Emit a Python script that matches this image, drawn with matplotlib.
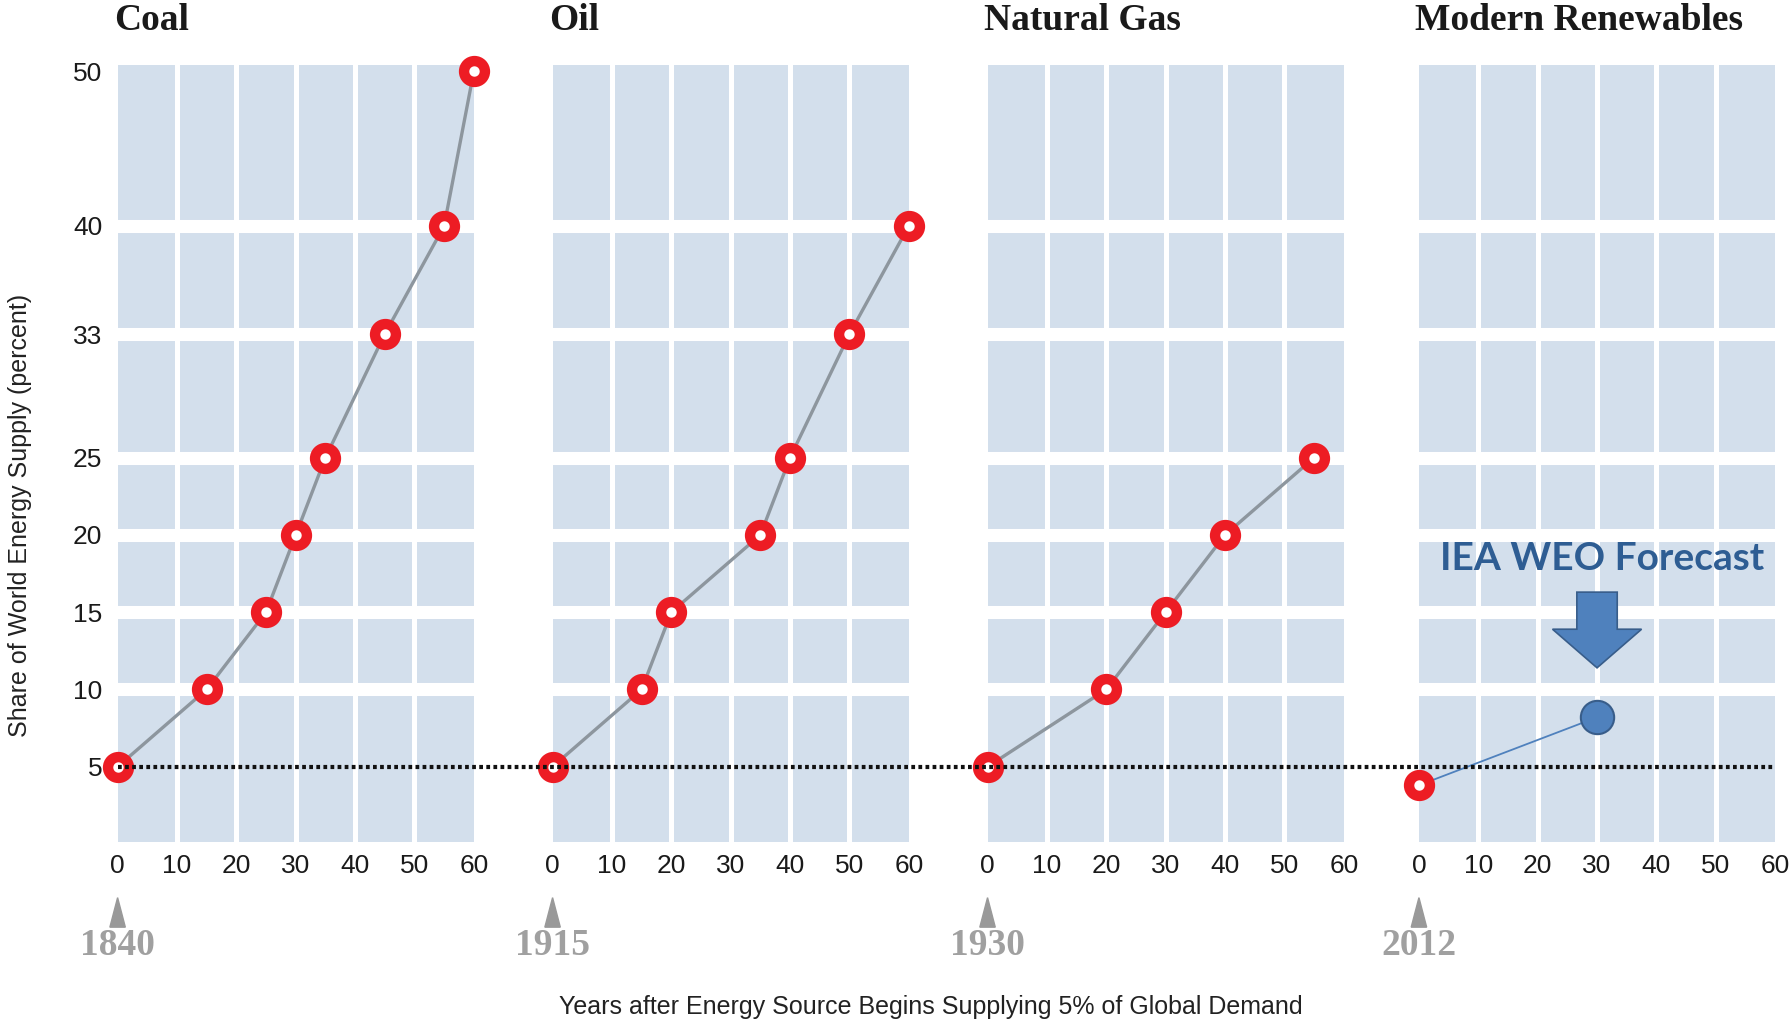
import numpy as np
import matplotlib
matplotlib.use("Agg")
import matplotlib.pyplot as plt
from matplotlib.patches import Polygon
from matplotlib.lines import Line2D
import matplotlib.transforms as mtransforms

# data
titles = ['Coal', 'Oil', 'Natural Gas', 'Modern Renewables']
start_years = ['1840', '1915', '1930', '2012']

coal_x = [0, 15, 25, 30, 35, 45, 55, 60]
coal_y = [5, 10, 15, 20, 25, 33, 40, 50]
oil_x = [0, 15, 20, 35, 40, 50, 60]
oil_y = [5, 10, 15, 20, 25, 33, 40]
gas_x = [0, 20, 30, 40, 55]
gas_y = [5, 10, 15, 20, 25]
ren_x = [0]
ren_y = [3.8]
forecast_x = [0, 30]
forecast_y = [3.8, 8.2]
threshold = 5

y_ticks = [5, 10, 15, 20, 25, 33, 40, 50]
band_gaps = [10, 15, 20, 25, 33, 40]
x_ticks = [0, 10, 20, 30, 40, 50, 60]

SANS = ['Liberation Sans', 'DejaVu Sans']
SERIF = ['Liberation Serif', 'DejaVu Serif']
RED = '#ed1c24'
LINE = '#8d969e'
SHADE = '#d3dfec'

series = [(coal_x, coal_y), (oil_x, oil_y), (gas_x, gas_y), (ren_x, ren_y)]
lefts = [0.0657, 0.3087, 0.5517, 0.7927]

fig = plt.figure(figsize=(17.9, 10.24), dpi=100)
axes = []
for i, left in enumerate(lefts):
    ax = fig.add_axes([left, 0.1773, 0.199, 0.759])
    axes.append(ax)
    ax.set_facecolor(SHADE)
    ax.set_xlim(0, 60)
    ax.set_ylim(0.1, 50.4)
    for s in ax.spines.values():
        s.set_visible(False)
    # white gutters between the blocks
    for gx in x_ticks[1:-1]:
        ax.axvline(gx, color='white', lw=3.6, zorder=1)
    for gy in band_gaps:
        ax.axhline(gy, color='white', lw=9.4, zorder=1)

    ax.set_xticks(x_ticks)
    ax.set_xticklabels([str(t) for t in x_ticks], family=SANS, fontsize=19, color='#1a1a1a')
    ax.tick_params(axis='x', length=0, pad=8)
    ax.set_yticks(y_ticks)
    if i == 0:
        ax.set_yticklabels([str(t) for t in y_ticks], family=SANS, fontsize=19, color='#1a1a1a')
        ax.tick_params(axis='y', length=0, pad=11)
    else:
        ax.tick_params(axis='y', length=0, labelleft=False)
    ax.grid(False)

    xs, ys = series[i]
    if i == 3:
        ax.plot(forecast_x, forecast_y, color='#4f81bd', lw=1.3, zorder=3, clip_on=False)
        ax.plot(forecast_x[1:], forecast_y[1:], 'o', ms=24, color='#4f81bd',
                mec='#385d8a', mew=1.5, zorder=4, clip_on=False)
    else:
        ax.plot(xs, ys, color=LINE, lw=2.4, zorder=3, clip_on=False)
    ax.plot(xs, ys, 'o', ms=15, mfc='white', mec=RED, mew=7.5, zorder=5, clip_on=False)

    ax.text(-0.01, 1.057, titles[i], transform=ax.transAxes, ha='left', va='center',
            family=SERIF, fontweight='bold', fontsize=27, color='#1a1a1a')

    # start-year marker under x=0
    trans = mtransforms.blended_transform_factory(ax.transData, ax.transAxes)
    tri = Polygon([[-1.3, -0.109], [1.3, -0.109], [0, -0.071]], closed=True,
                  transform=trans, color='#999999', clip_on=False)
    ax.add_patch(tri)
    ax.text(0, -0.133, start_years[i], transform=trans, ha='center', va='center',
            family=SERIF, fontweight='bold', fontsize=27, color='#a0a0a0')

# forecast annotation
ax4 = axes[3]
ax4.text(30.8, 18.5, 'IEA WEO Forecast', ha='center', va='center', family=['Lato', 'DejaVu Sans'],
         fontweight='bold', fontsize=28, color='#2e5d93', zorder=6)
arrow = Polygon([[26.6, 16.3], [33.4, 16.3], [33.4, 13.9], [37.5, 13.9],
                 [30.0, 11.4], [22.5, 13.9], [26.6, 13.9]], closed=True,
                facecolor='#4f81bd', edgecolor='#385d8a', lw=1.2, zorder=6)
ax4.add_patch(arrow)

# 5% dotted reference line across all panels
to_fig = fig.transFigure.inverted()
p0 = to_fig.transform(axes[0].transData.transform((0, threshold)))
p1 = to_fig.transform(axes[3].transData.transform((60, threshold)))
dots = Line2D([p0[0], p1[0]], [p0[1], p1[1]], transform=fig.transFigure, color='#111111',
              lw=3.0, linestyle=(0, (0.9, 0.8)), dash_capstyle='butt', zorder=2)
fig.add_artist(dots)

fig.text(0.011, 0.497, 'Share of World Energy Supply (percent)', rotation=90, ha='center', va='center',
         family=SANS, fontsize=18, color='#222222')
fig.text(0.52, 0.017, 'Years after Energy Source Begins Supplying 5% of Global Demand', ha='center', va='center',
         family=SANS, fontsize=18, color='#222222')

fig.savefig('out.png', dpi=100)
